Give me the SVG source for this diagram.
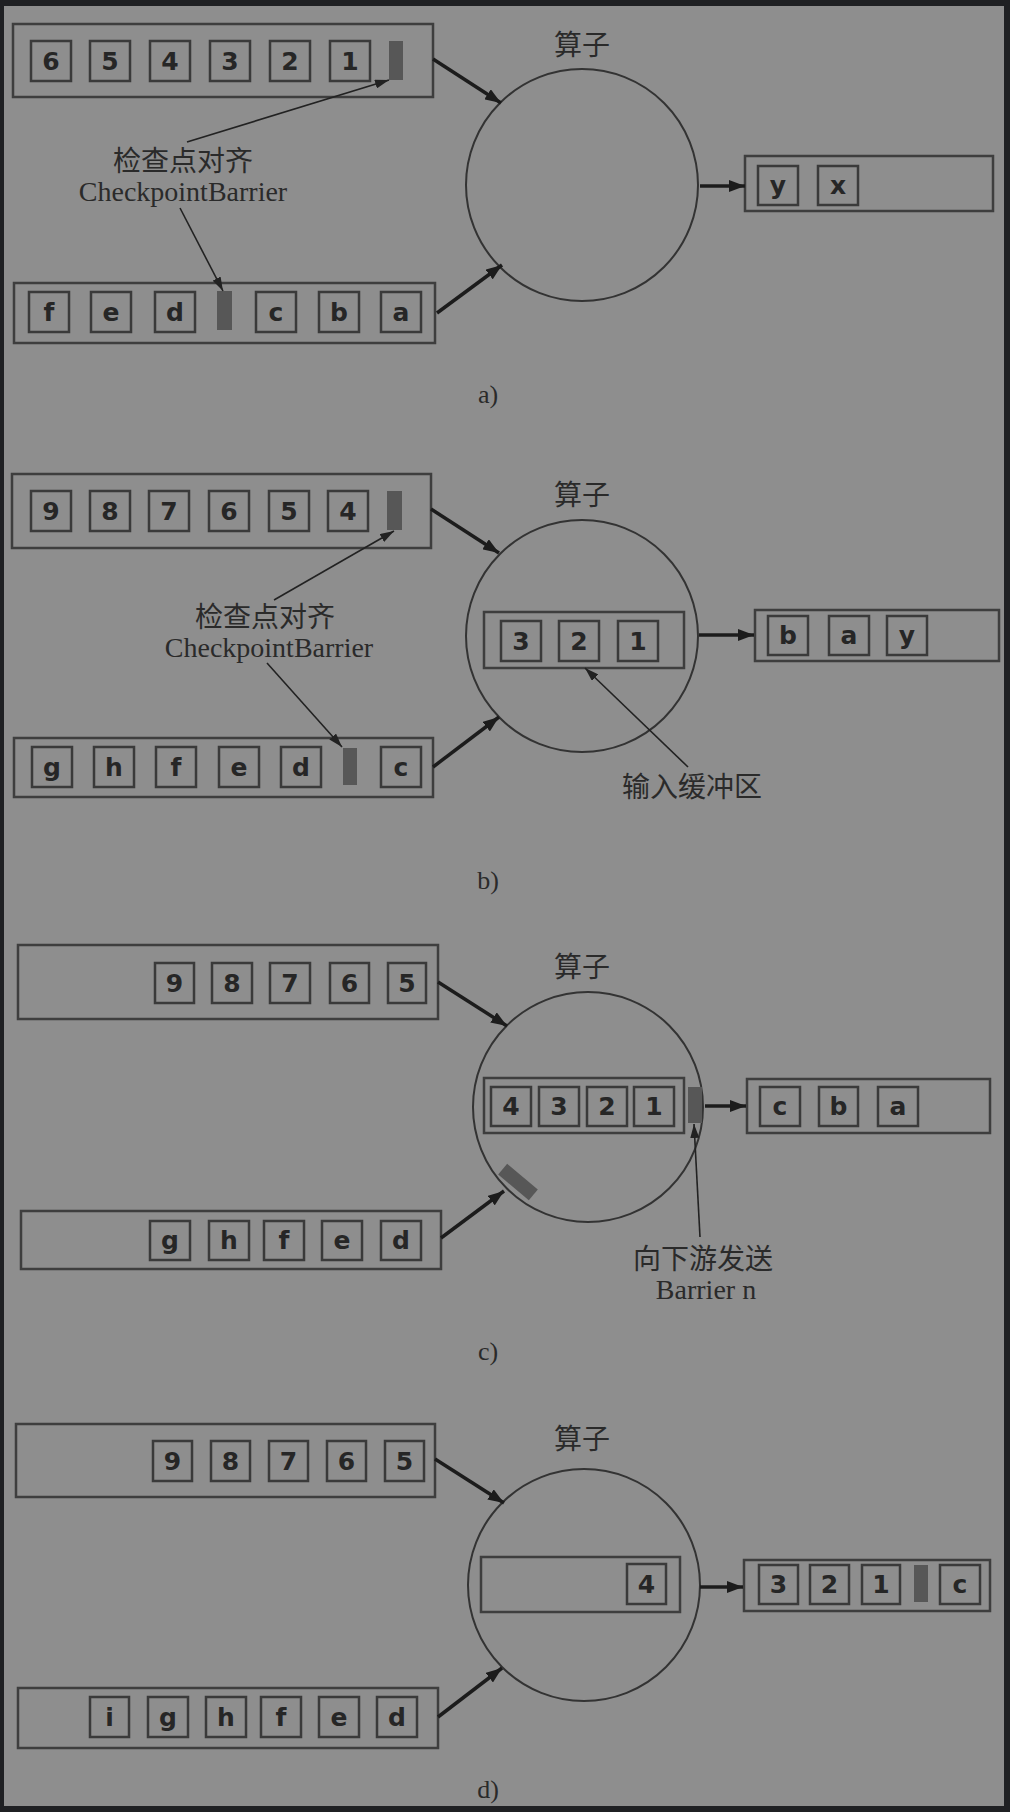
<svg xmlns="http://www.w3.org/2000/svg" width="1010" height="1812" viewBox="0 0 1010 1812">
<defs>
<style>
.q{fill:none;stroke:#3e3e3e;stroke-width:2.5}
.it{fill:none;stroke:#3a3a3a;stroke-width:2.5}
.t{font-family:"DejaVu Sans",sans-serif;font-weight:bold;font-size:25px;fill:#262626;text-anchor:middle}
.bar{fill:#575757}
.circ{fill:none;stroke:#333;stroke-width:2}
.lbl{font-family:"Liberation Serif","Noto Sans CJK SC",serif;font-size:28px;fill:#2a2a2a;text-anchor:middle}
.cn{font-family:"Noto Sans CJK SC","Liberation Serif",sans-serif;font-size:28px;fill:#2a2a2a;text-anchor:middle}
.thick{stroke:#1c1c1c;stroke-width:3.5;fill:none}
.thin{stroke:#222;stroke-width:1.6;fill:none}
</style>
<marker id="ah" viewBox="0 0 16 12" refX="16" refY="6" markerWidth="16" markerHeight="12" markerUnits="userSpaceOnUse" orient="auto"><path d="M0,0 L16,6 L0,12 Z" fill="#1c1c1c"/></marker>
<marker id="ahs" viewBox="0 0 14 9" refX="14" refY="4.5" markerWidth="14" markerHeight="9" markerUnits="userSpaceOnUse" orient="auto"><path d="M0,0 L14,4.5 L0,9 Z" fill="#222"/></marker>
</defs>
<rect x="0" y="0" width="1010" height="1812" fill="#1f2023"/>
<rect x="4" y="6" width="1000" height="1800" fill="#8e8e8e"/>

<!-- Panel a -->
<g id="a-in1">
<rect class="q" x="13" y="24" width="420" height="73"/>
<rect class="it" x="31" y="41" width="40" height="40"/><text class="t" x="51" y="70">6</text>
<rect class="it" x="90" y="41" width="40" height="40"/><text class="t" x="110" y="70">5</text>
<rect class="it" x="150" y="41" width="40" height="40"/><text class="t" x="170" y="70">4</text>
<rect class="it" x="210" y="41" width="40" height="40"/><text class="t" x="230" y="70">3</text>
<rect class="it" x="270" y="41" width="40" height="40"/><text class="t" x="290" y="70">2</text>
<rect class="it" x="330" y="41" width="40" height="40"/><text class="t" x="350" y="70">1</text>
<rect class="bar" x="389" y="41" width="14" height="39"/>
</g>
<g id="a-op">
<circle class="circ" cx="582" cy="185" r="116"/>
<text class="cn" x="582" y="55">算子</text>
</g>
<g id="a-out">
<rect class="q" x="745" y="156" width="248" height="55"/>
<rect class="it" x="758" y="166" width="40" height="39"/><text class="t" x="778" y="194">y</text>
<rect class="it" x="818" y="166" width="40" height="39"/><text class="t" x="838" y="194">x</text>
</g>
<g id="a-in2">
<rect class="q" x="14" y="283" width="421" height="60"/>
<rect class="it" x="29" y="292" width="40" height="40"/><text class="t" x="49" y="321">f</text>
<rect class="it" x="91" y="292" width="40" height="40"/><text class="t" x="111" y="321">e</text>
<rect class="it" x="155" y="292" width="40" height="40"/><text class="t" x="175" y="321">d</text>
<rect class="bar" x="217" y="291" width="15" height="39"/>
<rect class="it" x="256" y="292" width="40" height="40"/><text class="t" x="276" y="321">c</text>
<rect class="it" x="319" y="292" width="40" height="40"/><text class="t" x="339" y="321">b</text>
<rect class="it" x="381" y="292" width="40" height="40"/><text class="t" x="401" y="321">a</text>
</g>
<g id="a-label">
<text class="cn" x="183" y="171">检查点对齐</text>
<text class="lbl" x="183" y="201">CheckpointBarrier</text>
</g>
<text class="lbl" x="488" y="403" style="font-size:26px">a)</text>

<!-- Panel b -->
<g id="b-in1">
<rect class="q" x="12" y="474" width="419" height="74"/>
<rect class="it" x="31" y="491" width="40" height="40"/><text class="t" x="51" y="520">9</text>
<rect class="it" x="90" y="491" width="40" height="40"/><text class="t" x="110" y="520">8</text>
<rect class="it" x="149" y="491" width="40" height="40"/><text class="t" x="169" y="520">7</text>
<rect class="it" x="209" y="491" width="40" height="40"/><text class="t" x="229" y="520">6</text>
<rect class="it" x="269" y="491" width="40" height="40"/><text class="t" x="289" y="520">5</text>
<rect class="it" x="328" y="491" width="40" height="40"/><text class="t" x="348" y="520">4</text>
<rect class="bar" x="387" y="491" width="15" height="39"/>
</g>
<g id="b-op">
<circle class="circ" cx="582" cy="636" r="116"/>
<text class="cn" x="582" y="505">算子</text>
<rect class="q" x="484" y="612" width="200" height="56"/>
<rect class="it" x="501" y="621" width="40" height="40"/><text class="t" x="521" y="650">3</text>
<rect class="it" x="559" y="621" width="40" height="40"/><text class="t" x="579" y="650">2</text>
<rect class="it" x="618" y="621" width="40" height="40"/><text class="t" x="638" y="650">1</text>
</g>
<g id="b-out">
<rect class="q" x="755" y="610" width="244" height="51"/>
<rect class="it" x="768" y="616" width="40" height="39"/><text class="t" x="788" y="644">b</text>
<rect class="it" x="829" y="616" width="40" height="39"/><text class="t" x="849" y="644">a</text>
<rect class="it" x="887" y="616" width="40" height="39"/><text class="t" x="907" y="644">y</text>
</g>
<g id="b-in2">
<rect class="q" x="14" y="738" width="419" height="59"/>
<rect class="it" x="32" y="747" width="40" height="40"/><text class="t" x="52" y="776">g</text>
<rect class="it" x="94" y="747" width="40" height="40"/><text class="t" x="114" y="776">h</text>
<rect class="it" x="156" y="747" width="40" height="40"/><text class="t" x="176" y="776">f</text>
<rect class="it" x="219" y="747" width="40" height="40"/><text class="t" x="239" y="776">e</text>
<rect class="it" x="281" y="747" width="40" height="40"/><text class="t" x="301" y="776">d</text>
<rect class="bar" x="343" y="748" width="14" height="37"/>
<rect class="it" x="381" y="747" width="40" height="40"/><text class="t" x="401" y="776">c</text>
</g>
<g id="b-label">
<text class="cn" x="265" y="627">检查点对齐</text>
<text class="lbl" x="269" y="657">CheckpointBarrier</text>
</g>
<g id="b-buflabel"><text class="cn" x="692" y="797">输入缓冲区</text></g>
<text class="lbl" x="488" y="889" style="font-size:26px">b)</text>

<!-- Panel c -->
<g id="c-in1">
<rect class="q" x="18" y="945" width="420" height="74"/>
<rect class="it" x="155" y="963" width="39" height="40"/><text class="t" x="174.5" y="992">9</text>
<rect class="it" x="212" y="963" width="40" height="40"/><text class="t" x="232" y="992">8</text>
<rect class="it" x="270" y="963" width="40" height="40"/><text class="t" x="290" y="992">7</text>
<rect class="it" x="330" y="963" width="39" height="40"/><text class="t" x="349.5" y="992">6</text>
<rect class="it" x="388" y="963" width="38" height="40"/><text class="t" x="407" y="992">5</text>
</g>
<g id="c-op">
<circle class="circ" cx="588" cy="1107" r="115"/>
<text class="cn" x="582" y="977">算子</text>
<rect class="q" x="484" y="1078" width="200" height="55"/>
<rect class="it" x="491" y="1087" width="40" height="39"/><text class="t" x="511" y="1115">4</text>
<rect class="it" x="539" y="1087" width="40" height="39"/><text class="t" x="559" y="1115">3</text>
<rect class="it" x="587" y="1087" width="40" height="39"/><text class="t" x="607" y="1115">2</text>
<rect class="it" x="634" y="1087" width="40" height="39"/><text class="t" x="654" y="1115">1</text>
<rect class="bar" x="688" y="1087" width="14" height="36"/>
<rect class="bar" x="-20" y="-7" width="40" height="14" transform="translate(518 1182) rotate(40)"/>
</g>
<g id="c-out">
<rect class="q" x="747" y="1079" width="243" height="54"/>
<rect class="it" x="760" y="1087" width="40" height="39"/><text class="t" x="780" y="1115">c</text>
<rect class="it" x="819" y="1087" width="39" height="39"/><text class="t" x="838.5" y="1115">b</text>
<rect class="it" x="878" y="1087" width="40" height="39"/><text class="t" x="898" y="1115">a</text>
</g>
<g id="c-in2">
<rect class="q" x="21" y="1211" width="420" height="58"/>
<rect class="it" x="150" y="1221" width="40" height="39"/><text class="t" x="170" y="1249">g</text>
<rect class="it" x="209" y="1221" width="40" height="39"/><text class="t" x="229" y="1249">h</text>
<rect class="it" x="264" y="1221" width="40" height="39"/><text class="t" x="284" y="1249">f</text>
<rect class="it" x="322" y="1221" width="40" height="39"/><text class="t" x="342" y="1249">e</text>
<rect class="it" x="381" y="1221" width="40" height="39"/><text class="t" x="401" y="1249">d</text>
</g>
<g id="c-label">
<text class="cn" x="703" y="1269">向下游发送</text>
<text class="lbl" x="706" y="1299">Barrier n</text>
</g>
<text class="lbl" x="488" y="1360" style="font-size:26px">c)</text>

<!-- Panel d -->
<g id="d-in1">
<rect class="q" x="16" y="1424" width="419" height="73"/>
<rect class="it" x="153" y="1441" width="39" height="40"/><text class="t" x="172.5" y="1470">9</text>
<rect class="it" x="211" y="1441" width="39" height="40"/><text class="t" x="230.5" y="1470">8</text>
<rect class="it" x="269" y="1441" width="39" height="40"/><text class="t" x="288.5" y="1470">7</text>
<rect class="it" x="327" y="1441" width="39" height="40"/><text class="t" x="346.5" y="1470">6</text>
<rect class="it" x="385" y="1441" width="39" height="40"/><text class="t" x="404.5" y="1470">5</text>
</g>
<g id="d-op">
<circle class="circ" cx="584" cy="1585" r="116"/>
<text class="cn" x="582" y="1449">算子</text>
<rect class="q" x="481" y="1557" width="199" height="55"/>
<rect class="it" x="627" y="1564" width="39" height="40"/><text class="t" x="646.5" y="1593">4</text>
</g>
<g id="d-out">
<rect class="q" x="744" y="1560" width="246" height="51"/>
<rect class="it" x="759" y="1565" width="39" height="39"/><text class="t" x="778.5" y="1593">3</text>
<rect class="it" x="810" y="1565" width="39" height="39"/><text class="t" x="829.5" y="1593">2</text>
<rect class="it" x="862" y="1565" width="38" height="39"/><text class="t" x="881" y="1593">1</text>
<rect class="bar" x="914" y="1565" width="14" height="37"/>
<rect class="it" x="940" y="1565" width="40" height="39"/><text class="t" x="960" y="1593">c</text>
</g>
<g id="d-in2">
<rect class="q" x="18" y="1688" width="420" height="60"/>
<rect class="it" x="90" y="1697" width="39" height="40"/><text class="t" x="109.5" y="1726">i</text>
<rect class="it" x="148" y="1697" width="40" height="40"/><text class="t" x="168" y="1726">g</text>
<rect class="it" x="206" y="1697" width="40" height="40"/><text class="t" x="226" y="1726">h</text>
<rect class="it" x="261" y="1697" width="40" height="40"/><text class="t" x="281" y="1726">f</text>
<rect class="it" x="319" y="1697" width="40" height="40"/><text class="t" x="339" y="1726">e</text>
<rect class="it" x="377" y="1697" width="40" height="40"/><text class="t" x="397" y="1726">d</text>
</g>
<text class="lbl" x="488" y="1798" style="font-size:26px">d)</text>

<g id="connectors">
<line class="thick" x1="433" y1="59" x2="501" y2="103" marker-end="url(#ah)"/>
<line class="thick" x1="437" y1="313" x2="502" y2="265" marker-end="url(#ah)"/>
<line class="thick" x1="700" y1="186" x2="745" y2="186" marker-end="url(#ah)"/>
<line class="thin" x1="187" y1="142" x2="389" y2="80" marker-end="url(#ahs)"/>
<line class="thin" x1="180" y1="208" x2="223" y2="291" marker-end="url(#ahs)"/>

<line class="thick" x1="431" y1="509" x2="499" y2="553" marker-end="url(#ah)"/>
<line class="thick" x1="433" y1="767" x2="499" y2="717" marker-end="url(#ah)"/>
<line class="thick" x1="699" y1="635" x2="754" y2="635" marker-end="url(#ah)"/>
<line class="thin" x1="274" y1="600" x2="394" y2="531" marker-end="url(#ahs)"/>
<line class="thin" x1="267" y1="663" x2="342" y2="747" marker-end="url(#ahs)"/>
<line class="thin" x1="688" y1="767" x2="585" y2="668" marker-end="url(#ahs)"/>

<line class="thick" x1="438" y1="982" x2="507" y2="1026" marker-end="url(#ah)"/>
<line class="thick" x1="441" y1="1238" x2="504" y2="1191" marker-end="url(#ah)"/>
<line class="thick" x1="705" y1="1106" x2="746" y2="1106" marker-end="url(#ah)"/>
<line class="thin" x1="700" y1="1237" x2="694" y2="1124" marker-end="url(#ahs)"/>

<line class="thick" x1="435" y1="1459" x2="504" y2="1503" marker-end="url(#ah)"/>
<line class="thick" x1="438" y1="1717" x2="502" y2="1668" marker-end="url(#ah)"/>
<line class="thick" x1="700" y1="1587" x2="743" y2="1587" marker-end="url(#ah)"/>
</g>
</svg>
